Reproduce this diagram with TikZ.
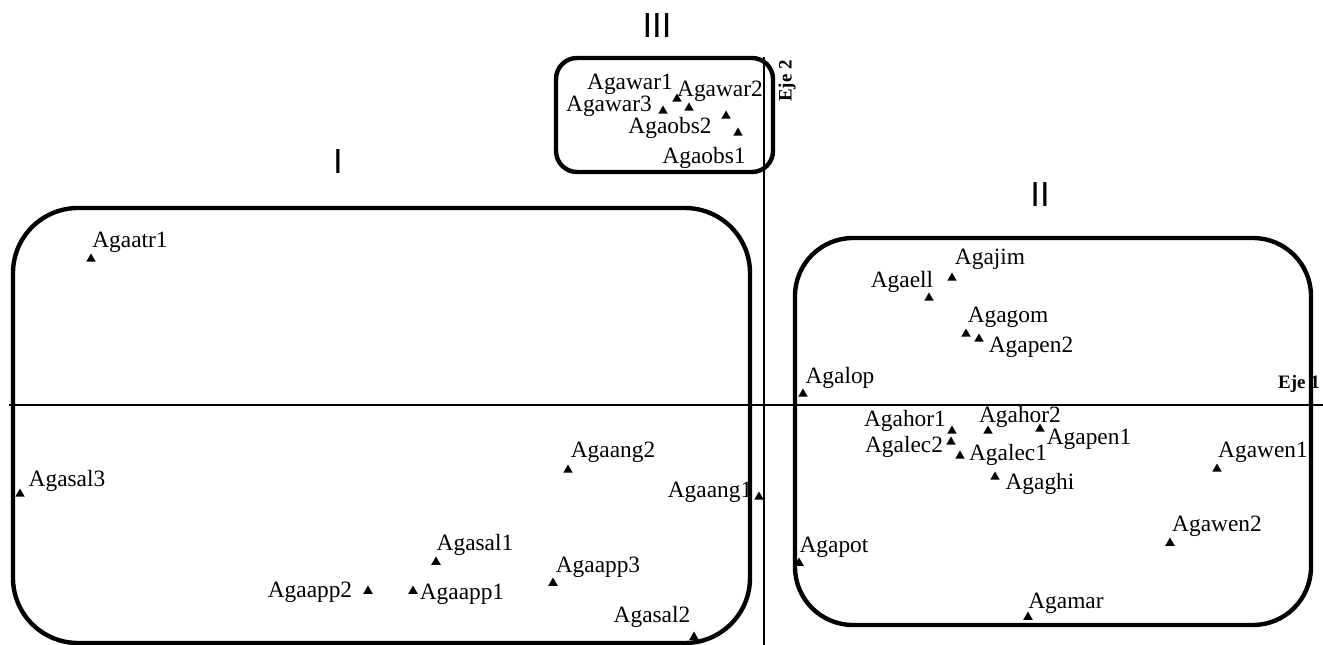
\documentclass[tikz,border=0pt]{standalone}
\usepackage{fontspec}
\setmainfont{Liberation Serif}
\setsansfont{Liberation Sans}
\usepackage{xcolor}
\usepackage{tikz}
\usetikzlibrary{shapes,positioning}

\begin{document}
\begin{tikzpicture}[x=0.02cm,y=-0.02cm,
    pt/.style={regular polygon, regular polygon sides=3, fill=black, inner sep=0pt, minimum size=0.22cm},
    lbl/.style={inner sep=0pt, font=\fontsize{13.3}{15}\selectfont},
    grp/.style={line width=2.5pt},
    eje/.style={inner sep=0pt, font=\fontsize{10.8}{12}\selectfont\bfseries},
    num/.style={inner sep=0pt, font=\fontsize{19.8}{22}\selectfont\sffamily}]
        \useasboundingbox (0,0) rectangle (1323,645);
        % Axes
        \draw[line width=1.2pt] (9,405) -- (1323,405);
        \draw[line width=1.2pt] (764,57) -- (764,645);
        \node[eje] (eje1) at (1299,384) {Eje 1};
        \node[eje, rotate=90] (eje2) at (787,81) {Eje 2};
        % Groups
        \draw[grp, rounded corners=1.3cm] (13,208) rectangle (750,643);
        \draw[grp, rounded corners=1.16cm] (795,238) rectangle (1311,625);
        \draw[grp, rounded corners=0.42cm] (556,58) rectangle (773,172);
        \node[num] (gI) at (338,162) {I};
        \node[num] (gII) at (1040,195) {II};
        \node[num] (gIII) at (657,26) {III};
        % Samples
        \foreach \n/\px/\py/\lx/\ly in {
            Agawar1/677/99/630/84, Agawar2/689/108/720/91, Agawar3/663/111/609/106,
            Agaobs2/726/116/670/128, Agaobs1/738/133/704/158,
            Agaatr1/91/259/130/242, Agasal3/20/494/67/481,
            Agaang2/568/470/613/452, Agaang1/759/497/710/492,
            Agasal1/436/562/475/545, Agaapp3/553/583/598/567,
            Agaapp1/413/591/462/594, Agasal2/694/637/652/617,
            Agaapp2/368/591/310/592,
            Agajim/952/278/990/259, Agaell/929/298/902/282,
            Agagom/966/334/1008/317, Agapen2/979/339/1031/347,
            Agalop/803/394/840/378,
            Agahor1/952/431/905/421, Agahor2/988/431/1020/417,
            Agalec2/951/442/904/447, Agalec1/960/456/1008/455,
            Agapen1/1040/429/1089/439, Agaghi/995/477/1040/484,
            Agawen1/1217/469/1263/452, Agawen2/1170/543/1217/526,
            Agamar/1028/617/1066/603, Agapot/799/563/834/547} {
            \node[pt] (p\n) at (\px,\py) {};
            \node[lbl] (l\n) at (\lx,\ly) {\n};
        }
    \end{tikzpicture}
\end{document}
